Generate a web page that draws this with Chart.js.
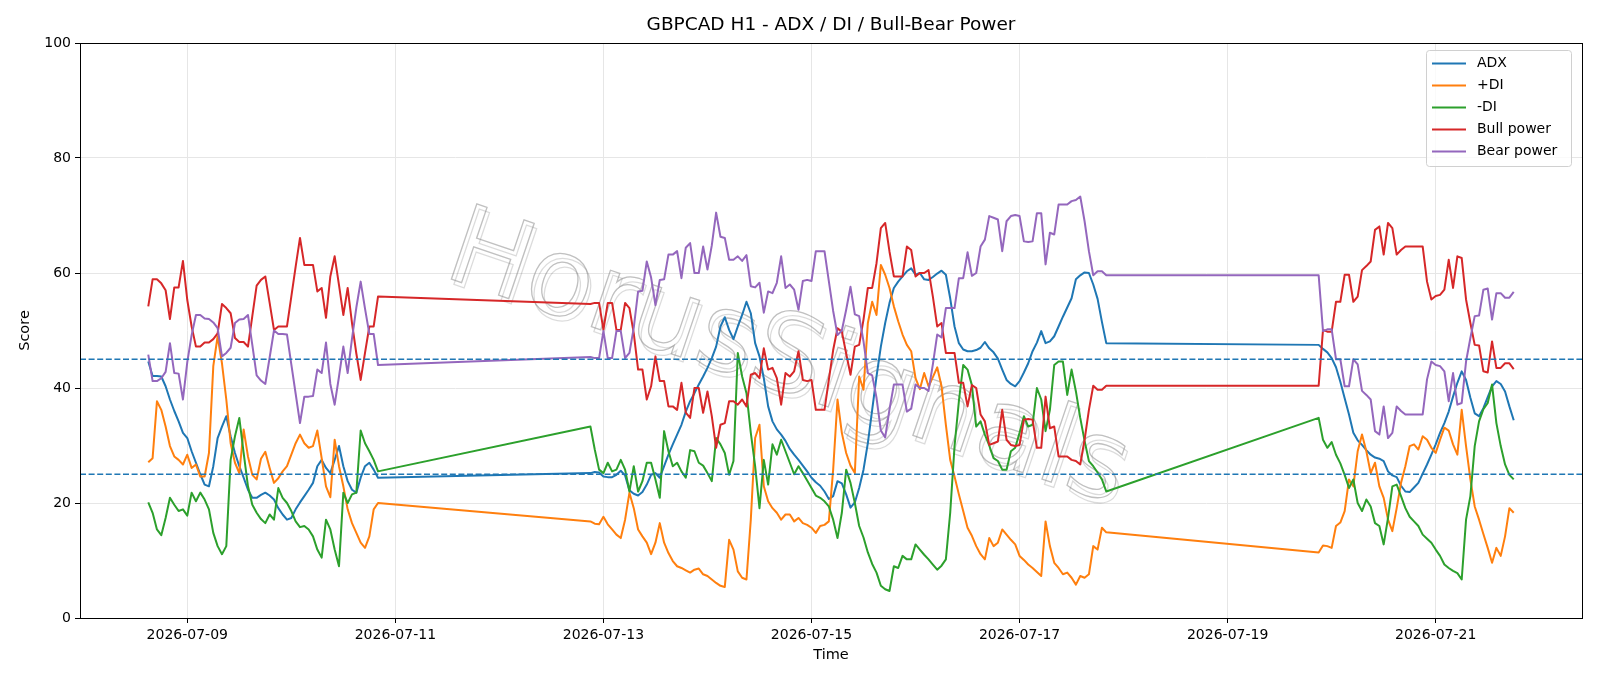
<!DOCTYPE html>
<html>
<head>
<meta charset="utf-8">
<title>GBPCAD H1 - ADX / DI / Bull-Bear Power</title>
<script src="https://cdn.jsdelivr.net/npm/chart.js@4.4.1/dist/chart.umd.min.js"></script>
<style>
    html, body { margin: 0; padding: 0; background: #fff; }
    canvas { display: block; }
</style>
</head>
<body>
<canvas id="chart" width="1600" height="686"></canvas>
<script>
// hourly candles, three trading sessions (weekends skipped)
const sessions = [
    { start: "2026-07-08T15:00:00Z", hours: 54 },
    { start: "2026-07-12T21:00:00Z", hours: 120 },
    { start: "2026-07-19T21:00:00Z", hours: 46 }
];
const xTickLabels = ["2026-07-09", "2026-07-11", "2026-07-13", "2026-07-15", "2026-07-17", "2026-07-19", "2026-07-21"];
const yTicks = [0, 20, 40, 60, 80, 100];
const levels = [45, 25];

const adx = [
    44.6, 42.1, 42.1, 42.0, 40.3, 38.0, 36.0, 34.2, 32.2, 31.3, 29.0, 27.0, 25.0, 23.2, 22.9, 26.4, 31.3, 33.3, 35.1, 31.6, 28.7, 26.4, 24.4, 22.3, 20.9, 20.9, 21.4,
    21.8, 21.3, 20.6, 19.1, 18.0, 17.1, 17.4, 18.9, 20.1, 21.2, 22.3, 23.5, 26.4, 27.5, 26.1, 25.2, 27.5, 29.9, 26.4, 23.8, 22.3, 21.8, 24.4, 26.4, 27.0, 25.8, 24.4,
    25.2, 25.4, 25.3, 24.6, 24.5, 24.5, 24.9, 25.6, 24.8, 22.2, 21.6, 21.3, 21.9, 23.2, 24.9, 25.2, 24.4, 26.4, 28.4, 30.2, 31.9, 33.6, 35.9, 37.7, 39.1, 40.6, 42.0, 43.5, 45.2, 47.2, 50.7, 52.3,
    50.1, 48.5, 50.7, 52.7, 55.0, 53.0, 47.8, 45.5, 41.7, 36.8, 34.2, 32.8, 31.9, 30.8, 29.4, 28.4, 27.5, 26.5, 25.5, 24.4, 23.6, 23.0, 22.0, 20.7, 21.2, 23.8, 23.4, 21.5, 19.2,
    20.1, 22.6, 25.8, 30.4, 36.2, 42.0, 47.2, 51.3, 54.8, 57.4, 58.5, 59.4, 60.3, 60.8, 59.7, 60.0, 58.9, 58.8, 59.3, 59.9, 60.4, 59.7, 55.6, 50.7, 47.8, 46.7, 46.4,
    46.4, 46.6, 47.0, 48.0, 46.9, 46.2, 45.1, 43.2, 41.4, 40.7, 40.3, 41.2, 42.7, 44.3, 46.4, 47.9, 49.9, 47.8, 48.1, 49.0, 50.7, 52.4, 54.0, 55.6, 58.9, 59.6, 60.1, 60.0, 58.0, 55.5, 51.5, 47.8,
    47.5, 46.8, 46.2, 45.2, 43.6, 41.1, 38.2, 35.4, 32.2, 30.9, 30.1, 29.2, 28.4, 27.9, 27.7, 27.3, 25.5, 24.8, 24.5, 23.0, 22.0, 21.9, 22.7,
    23.5, 25.1, 26.7, 28.4, 30.2, 32.2, 33.9, 35.9, 38.5, 40.9, 42.9, 41.4, 38.3, 35.6, 35.1, 36.5, 38.4, 40.3, 41.2, 40.7, 39.4, 36.8, 34.4
];
const plusDI = [
    27.1, 27.8, 37.7, 36.2, 33.3, 29.9, 28.1, 27.5, 26.7, 28.4, 26.1, 26.7, 24.6, 24.6, 28.7, 43.8, 49.0, 44.3, 38.0, 30.4, 27.0, 25.2, 32.8, 28.1, 24.9, 24.1, 27.7,
    28.9, 26.1, 23.5, 24.3, 25.5, 26.4, 28.4, 30.4, 31.9, 30.4, 29.6, 29.9, 32.6, 27.8, 22.9, 21.0, 31.0, 26.4, 22.9, 18.9, 16.5, 14.8, 13.1, 12.2, 14.2, 18.9, 20.0,
    16.8, 16.4, 16.3, 17.6, 16.3, 15.4, 14.5, 13.9, 17.1, 21.8, 19.1, 15.4, 14.2, 13.1, 11.1, 13.1, 16.5, 13.1, 11.3, 9.9, 9.0, 8.7, 8.3, 7.9, 8.4, 8.6, 7.6, 7.3, 6.7, 6.1, 5.6, 5.4,
    13.6, 11.9, 8.1, 7.0, 6.7, 17.1, 31.3, 33.6, 22.9, 20.3, 19.1, 18.3, 17.1, 18.0, 18.0, 16.8, 17.4, 16.5, 16.2, 15.7, 14.8, 16.0, 16.2, 16.8, 25.8, 38.0, 32.2, 28.7, 26.5,
    25.2, 42.0, 39.7, 51.3, 55.0, 52.7, 61.4, 59.7, 57.4, 54.2, 51.6, 49.3, 47.5, 46.4, 41.7, 39.8, 42.6, 40.3, 41.9, 43.6, 40.3, 33.6, 27.5, 24.6, 21.5, 18.6, 15.7,
    14.3, 12.5, 11.1, 10.2, 13.9, 12.5, 13.1, 15.4, 14.5, 13.6, 12.8, 10.8, 10.1, 9.3, 8.7, 8.0, 7.3, 16.8, 12.5, 9.6, 8.7, 7.6, 7.9, 7.0, 5.8, 7.3, 7.0, 7.6, 12.5, 11.9, 15.7, 14.9,
    11.4, 12.6, 12.5, 12.2, 16.0, 16.6, 18.6, 24.1, 22.9, 29.0, 31.9, 29.0, 25.2, 27.0, 22.9, 20.9, 17.1, 15.1, 19.1, 23.5, 26.4, 29.9, 30.2,
    29.3, 31.6, 31.0, 29.6, 28.7, 31.0, 33.1, 32.6, 30.2, 28.4, 36.2, 29.9, 24.1, 19.4, 17.1, 14.6, 12.2, 9.6, 12.2, 10.8, 14.2, 19.1, 18.3
];
const minusDI = [
    20.1, 18.3, 15.4, 14.4, 17.4, 20.9, 19.7, 18.6, 18.9, 17.8, 21.8, 20.3, 21.8, 20.6, 18.9, 14.8, 12.5, 11.1, 12.5, 27.5, 31.6, 34.8, 28.7, 22.9, 19.7, 18.3, 17.2,
    16.5, 18.0, 17.1, 22.6, 20.9, 20.0, 18.6, 16.8, 15.8, 16.0, 15.4, 14.2, 11.9, 10.5, 17.1, 15.4, 11.9, 9.0, 21.8, 20.0, 21.5, 21.8, 32.6, 30.4, 29.0, 27.5, 25.5,
    33.3, 29.3, 25.8, 25.2, 27.0, 25.5, 25.8, 27.5, 25.8, 22.0, 26.4, 22.0, 23.8, 27.0, 27.0, 24.1, 20.9, 32.5, 29.0, 26.4, 27.0, 25.5, 24.4, 29.2, 29.0, 27.0, 26.5, 25.2, 23.8, 31.3, 30.2, 28.7,
    24.9, 27.3, 46.1, 42.0, 39.1, 32.2, 26.4, 19.1, 27.5, 23.2, 30.2, 28.4, 31.0, 29.0, 27.0, 25.0, 26.4, 25.2, 23.9, 22.6, 21.3, 20.9, 20.3, 19.4, 17.1, 13.9, 18.3, 25.8, 23.5,
    20.0, 16.0, 14.0, 11.4, 9.4, 7.9, 5.6, 5.0, 4.7, 9.0, 8.7, 10.8, 10.2, 10.2, 12.8, 11.9, 11.0, 10.2, 9.3, 8.4, 9.1, 10.2, 18.3, 29.9, 37.7, 44.0, 43.2,
    40.5, 33.3, 34.2, 31.9, 30.0, 27.8, 27.3, 25.8, 25.8, 29.0, 29.6, 32.2, 35.1, 33.3, 33.6, 40.0, 38.0, 32.5, 36.2, 44.0, 44.6, 44.6, 38.8, 43.2, 39.4, 34.8, 30.8, 27.3, 26.4, 25.3, 24.1, 22.0,
    34.8, 31.0, 29.6, 30.6, 28.4, 26.9, 24.9, 22.6, 24.1, 20.0, 18.6, 20.6, 19.4, 16.5, 16.0, 12.8, 17.4, 22.9, 23.2, 21.2, 19.1, 17.6, 16.8,
    16.0, 14.5, 13.8, 13.1, 11.9, 10.8, 9.3, 8.7, 8.2, 7.8, 6.7, 17.1, 21.2, 29.9, 34.2, 36.3, 37.4, 40.6, 33.9, 29.9, 26.7, 24.9, 24.1
];
const bullPower = [
    54.2, 58.9, 58.9, 58.2, 57.0, 52.0, 57.5, 57.5, 62.1, 55.3, 50.7, 47.2, 47.2, 47.9, 47.9, 48.5, 49.5, 54.6, 53.9, 53.0, 48.7, 48.0, 48.0, 47.2, 52.5, 57.8, 58.8,
    59.4, 54.8, 50.1, 50.7, 50.7, 50.7, 55.9, 61.1, 66.1, 61.4, 61.4, 61.4, 56.8, 57.4, 52.2, 59.4, 62.9, 57.9, 52.7, 57.4, 51.3, 46.0, 41.4, 46.1, 50.7, 50.7, 55.9,
    54.6, 54.8, 54.8, 50.1, 54.8, 54.8, 50.1, 50.1, 54.8, 53.9, 49.5, 43.2, 43.2, 38.0, 40.3, 45.5, 41.2, 41.2, 36.8, 36.8, 36.2, 40.9, 35.7, 34.8, 40.0, 40.0, 35.7, 39.4, 35.1, 29.6, 33.6, 33.9,
    37.7, 37.7, 37.1, 38.0, 36.8, 42.3, 42.6, 41.7, 46.9, 43.2, 43.5, 41.7, 37.1, 42.6, 42.0, 42.9, 46.4, 41.4, 41.2, 41.4, 36.2, 36.2, 36.2, 41.4, 46.6, 50.4, 49.8, 46.0, 42.3,
    47.2, 47.5, 51.9, 57.4, 57.4, 61.7, 67.8, 68.7, 63.7, 59.4, 59.4, 59.4, 64.6, 64.0, 59.4, 60.0, 60.0, 60.5, 55.9, 50.7, 51.3, 46.1, 46.1, 46.1, 40.9, 40.9, 36.8,
    40.5, 40.0, 35.4, 34.2, 30.1, 30.4, 30.7, 36.2, 31.0, 30.1, 29.9, 30.1, 34.5, 34.6, 34.5, 29.6, 29.6, 38.5, 33.0, 33.3, 28.1, 28.1, 28.1, 27.5, 27.3, 26.7, 31.0, 36.2, 40.4, 39.7, 39.7, 40.4,
    40.4, 50.1, 49.8, 49.8, 55.0, 55.0, 59.7, 59.7, 55.0, 55.9, 60.5, 61.2, 62.0, 67.5, 68.1, 63.2, 68.7, 67.8, 63.2, 64.0, 64.6, 64.6, 64.6,
    64.6, 64.6, 58.5, 55.4, 56.0, 56.2, 57.1, 62.3, 57.4, 62.9, 62.6, 55.4, 51.3, 47.5, 47.4, 42.9, 42.7, 48.1, 43.5, 43.5, 44.3, 44.3, 43.3
];
const bearPower = [
    45.8, 41.2, 41.2, 41.7, 42.8, 47.8, 42.6, 42.5, 38.0, 44.5, 49.2, 52.7, 52.7, 52.1, 52.0, 51.4, 50.4, 45.5, 46.1, 47.0, 51.3, 51.9, 52.0, 52.7, 47.5, 42.2, 41.3,
    40.7, 45.3, 50.0, 49.4, 49.4, 49.3, 44.1, 39.0, 33.9, 38.5, 38.5, 38.6, 43.2, 42.6, 47.9, 40.7, 37.1, 42.0, 47.2, 42.6, 48.6, 54.0, 58.5, 53.8, 49.4, 49.4, 44.0,
    45.4, 45.2, 45.2, 49.9, 45.2, 45.2, 49.9, 49.9, 45.2, 46.1, 50.5, 56.8, 56.9, 62.0, 59.2, 54.4, 58.8, 58.9, 63.2, 63.2, 63.8, 59.1, 64.4, 65.2, 60.0, 60.0, 64.6, 60.6, 64.8, 70.5, 66.3, 66.1,
    62.3, 62.3, 62.9, 62.1, 63.1, 57.7, 57.5, 58.3, 53.1, 56.8, 56.5, 58.3, 62.9, 57.4, 58.0, 57.1, 53.6, 58.6, 58.8, 58.6, 63.8, 63.8, 63.8, 58.6, 53.4, 49.2, 50.0, 53.6, 57.6,
    52.8, 52.5, 48.1, 42.6, 42.2, 38.3, 32.6, 31.4, 36.3, 40.6, 40.6, 40.6, 35.9, 36.4, 40.6, 40.0, 40.0, 39.5, 44.1, 49.3, 48.8, 53.9, 53.9, 53.9, 59.1, 59.1, 63.6,
    59.5, 60.0, 64.6, 65.8, 69.9, 69.6, 69.3, 63.8, 69.0, 69.9, 70.1, 69.9, 65.5, 65.4, 65.5, 70.4, 70.4, 61.5, 67.0, 66.7, 71.9, 71.9, 71.9, 72.5, 72.7, 73.3, 69.0, 63.8, 59.6, 60.3, 60.3, 59.6,
    59.6, 49.9, 50.2, 50.2, 45.0, 45.0, 40.3, 40.3, 45.0, 44.1, 39.5, 38.8, 38.0, 32.5, 31.9, 36.8, 31.3, 32.2, 36.8, 36.0, 35.4, 35.4, 35.4,
    35.4, 35.4, 41.5, 44.6, 44.0, 43.8, 42.9, 37.7, 42.6, 37.1, 37.4, 44.6, 48.7, 52.5, 52.6, 57.1, 57.3, 51.9, 56.5, 56.5, 55.7, 55.7, 56.7
];

const seriesNames = ["ADX", "+DI", "-DI", "Bull power", "Bear power"];
const seriesColors = ["#1f77b4", "#ff7f0e", "#2ca02c", "#d62728", "#9467bd"];
const seriesValues = [adx, plusDI, minusDI, bullPower, bearPower];

const times = [];
sessions.forEach(s => {
    const t0 = Date.parse(s.start);
    for (let i = 0; i < s.hours; i++) times.push(t0 + i * 3600000);
});
const span = times[times.length - 1] - times[0];
const xMin = times[0] - span * 0.05;
const xMax = times[times.length - 1] + span * 0.05;
const xTickValues = xTickLabels.map(d => Date.parse(d + "T00:00:00Z"));

const FONT = "DejaVu Sans";

const datasets = seriesValues.map((vals, k) => ({
    label: seriesNames[k],
    data: vals.map((v, i) => ({ x: times[i], y: v })),
    borderColor: seriesColors[k],
    borderWidth: 2,
    borderJoinStyle: "round",
    pointRadius: 0,
    fill: false,
    order: 10 - k,
    inLegend: true
}));
levels.forEach(lv => {
    datasets.push({
        label: "level " + lv,
        data: [{ x: xMin, y: lv }, { x: xMax, y: lv }],
        borderColor: "#1f77b4",
        borderWidth: 1.5,
        borderDash: [6, 2.6],
        pointRadius: 0,
        fill: false,
        order: 0
    });
});

const decorations = {
    id: "decorations",
    beforeDatasetsDraw(chart) {
        // faint rotated watermark behind the lines
        const ctx = chart.ctx;
        ctx.save();
        ctx.translate(787, 363);
        ctx.rotate(18.7 * Math.PI / 180);
        ctx.font = "109px '" + FONT + "'";
        ctx.textAlign = "center";
        ctx.textBaseline = "middle";
        ctx.lineWidth = 1.3;
        ctx.strokeStyle = "rgba(0,0,0,0.14)";
        ctx.strokeText("HorusSignals", 4, 4);
        ctx.strokeStyle = "rgba(130,130,130,0.5)";
        ctx.strokeText("HorusSignals", 0, 0);
        ctx.restore();
    },
    afterDatasetsDraw(chart) {
        const ctx = chart.ctx;
        const a = chart.chartArea;
        ctx.save();
        ctx.strokeStyle = "#000";
        ctx.lineWidth = 1;
        ctx.strokeRect(Math.round(a.left) + 0.5, Math.round(a.top) + 0.5, Math.round(a.right - a.left), Math.round(a.bottom - a.top));
        ctx.restore();
    },
    afterDraw(chart) {
        const ctx = chart.ctx;
        const a = chart.chartArea;
        const cx = (a.left + a.right) / 2;
        ctx.save();
        ctx.fillStyle = "#000";
        ctx.textAlign = "center";
        ctx.textBaseline = "middle";
        ctx.font = "18.5px '" + FONT + "'";
        ctx.fillText("GBPCAD H1 - ADX / DI / Bull-Bear Power", cx, 25);
        ctx.font = "14.5px '" + FONT + "'";
        ctx.fillText("Time", cx, 655);
        ctx.save();
        ctx.translate(25, (a.top + a.bottom) / 2);
        ctx.rotate(-Math.PI / 2);
        ctx.fillText("Score", 0, 0);
        ctx.restore();

        // legend box, upper right
        const bx = 1426.5, by = 50.5, bw = 145, bh = 116, r = 3;
        ctx.beginPath();
        ctx.moveTo(bx + r, by);
        ctx.lineTo(bx + bw - r, by);
        ctx.arcTo(bx + bw, by, bx + bw, by + r, r);
        ctx.lineTo(bx + bw, by + bh - r);
        ctx.arcTo(bx + bw, by + bh, bx + bw - r, by + bh, r);
        ctx.lineTo(bx + r, by + bh);
        ctx.arcTo(bx, by + bh, bx, by + bh - r, r);
        ctx.lineTo(bx, by + r);
        ctx.arcTo(bx, by, bx + r, by, r);
        ctx.closePath();
        ctx.fillStyle = "rgba(255,255,255,0.8)";
        ctx.fill();
        ctx.strokeStyle = "#d0d0d0";
        ctx.lineWidth = 1;
        ctx.stroke();

        ctx.textAlign = "left";
        ctx.font = "14px '" + FONT + "'";
        chart.data.datasets.filter(d => d.inLegend).forEach((d, i) => {
            const y = 63.5 + i * 22;
            ctx.strokeStyle = d.borderColor;
            ctx.lineWidth = 2;
            ctx.beginPath();
            ctx.moveTo(1432, y);
            ctx.lineTo(1466, y);
            ctx.stroke();
            ctx.fillStyle = "#000";
            ctx.fillText(d.label, 1477, y);
        });
        ctx.restore();
    }
};

new Chart(document.getElementById("chart"), {
    type: "line",
    data: { datasets: datasets },
    options: {
        responsive: false,
        animation: false,
        devicePixelRatio: 1,
        layout: { padding: { top: 43, right: 18, left: 0, bottom: 0 } },
        plugins: {
            legend: { display: false },
            title: { display: false },
            tooltip: { enabled: false }
        },
        elements: { line: { tension: 0 } },
        scales: {
            x: {
                type: "linear",
                min: xMin,
                max: xMax,
                afterBuildTicks: scale => { scale.ticks = xTickValues.map(v => ({ value: v })); },
                afterFit: scale => { scale.height = 68; },
                ticks: {
                    callback: v => new Date(v).toISOString().slice(0, 10),
                    font: { family: FONT, size: 14 },
                    color: "#000",
                    padding: 4,
                    maxRotation: 0,
                    autoSkip: false
                },
                grid: { color: "#e6e6e6", lineWidth: 1, tickColor: "#000", tickLength: 5 },
                border: { display: false }
            },
            y: {
                type: "linear",
                min: 0,
                max: 100,
                afterBuildTicks: scale => { scale.ticks = yTicks.map(v => ({ value: v })); },
                afterFit: scale => { scale.width = 80; },
                ticks: {
                    font: { family: FONT, size: 14 },
                    color: "#000",
                    padding: 4
                },
                grid: { color: "#e6e6e6", lineWidth: 1, tickColor: "#000", tickLength: 5 },
                border: { display: false }
            }
        }
    },
    plugins: [decorations]
});
</script>
</body>
</html>
